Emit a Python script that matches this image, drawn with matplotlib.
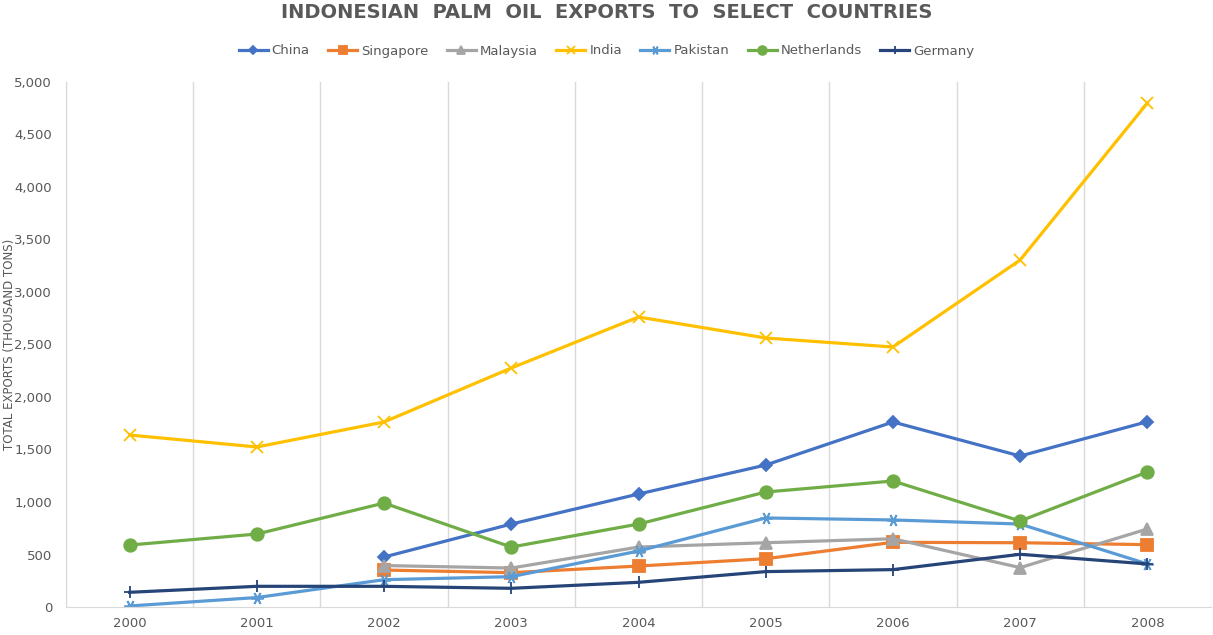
import matplotlib.pyplot as plt
import numpy as np

years = ["2000", "2001", "2002", "2003", "2004", "2005", "2006", "2007", "2008"]

# thousand tons (nan = no data)
nan = np.nan
china = [nan, nan, 476, 790, 1076, 1352, 1762, 1438, 1765]
singapore = [nan, nan, 352, 327, 390, 460, 616, 612, 594]
malaysia = [nan, nan, 395, 371, 571, 612, 650, 375, 743]
india = [1638, 1524, 1762, 2276, 2762, 2562, 2476, 3305, 4800]
pakistan = [10, 90, 260, 289, 533, 848, 829, 790, 410]
netherlands = [590, 695, 990, 571, 790, 1095, 1200, 819, 1286]
germany = [140, 197, 197, 178, 235, 337, 356, 502, 410]

series = [
    ("China", china, "#4472C4", "D", 6),
    ("Singapore", singapore, "#ED7D31", "s", 8),
    ("Malaysia", malaysia, "#A5A5A5", "^", 8),
    ("India", india, "#FFC000", "x", 8),
    ("Pakistan", pakistan, "#5B9BD5", (6, 2, 90), 9),
    ("Netherlands", netherlands, "#70AD47", "o", 9),
    ("Germany", germany, "#264478", "+", 9),
]

fig = plt.figure(figsize=(12.13, 6.35), dpi=100)
ax = fig.add_axes([66 / 1213, 1 - 607 / 635, 1145 / 1213, 525 / 635])

x = np.arange(len(years))
for name, vals, color, marker, ms in series:
    ax.plot(x, vals, color=color, linewidth=2.3, marker=marker, markersize=ms,
            markeredgewidth=1.3, label=name)

ax.set_xlim(-0.5, len(years) - 0.5)
ax.set_ylim(0, 5000)
ax.set_yticks(np.arange(0, 5001, 500))
ax.set_yticklabels([f"{v:,}" for v in range(0, 5001, 500)])
ax.set_xticks(x)
ax.set_xticklabels(years)

# vertical separators between categories
for b in np.arange(-0.5, len(years), 1.0):
    ax.axvline(b, color="#D9D9D9", linewidth=1.0, zorder=0)

for s in ["top", "right"]:
    ax.spines[s].set_visible(False)
ax.spines["left"].set_color("#D9D9D9")
ax.spines["bottom"].set_color("#D9D9D9")
ax.tick_params(axis="both", length=0, colors="#595959", labelsize=9.5)
ax.tick_params(axis="x", pad=7)
ax.tick_params(axis="y", pad=10)

ax.set_ylabel("TOTAL EXPORTS (THOUSAND TONS)", fontsize=8.5, color="#595959")
ax.yaxis.set_label_coords(-50 / 1145, 0.5)

fig.text(0.5, 0.995, "INDONESIAN  PALM  OIL  EXPORTS  TO  SELECT  COUNTRIES",
         ha="center", va="top", fontsize=14, fontweight="bold", color="#595959")

fig.legend(loc="center", bbox_to_anchor=(0.5, 1 - 51 / 635), ncol=7, frameon=False,
           fontsize=9.5, labelcolor="#595959", handlelength=2.2, columnspacing=1.4,
           handletextpad=0.3, markerscale=0.7)

fig.savefig("out.png", dpi=100)
